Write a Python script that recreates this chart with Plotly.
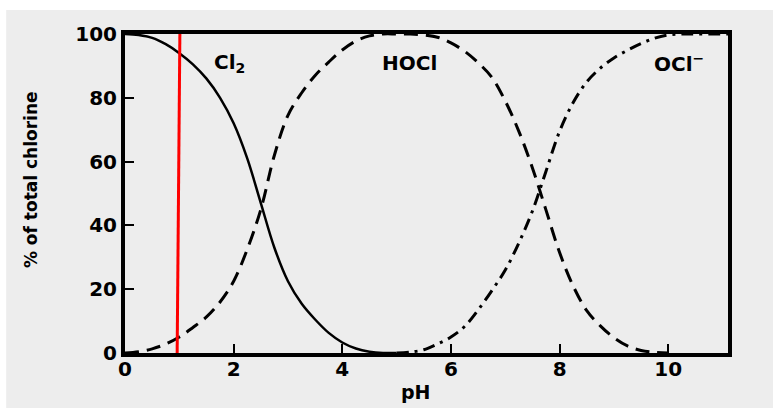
import plotly.graph_objects as go

# ---- data ----
ph_cl2 = [0, 0.25, 0.5, 0.75, 1.0, 1.25, 1.5, 1.75, 2.0, 2.25, 2.5, 2.75, 3.0, 3.25, 3.5,
          3.75, 4.0, 4.25, 4.5, 4.75, 5.0]
cl2 = [100, 99.7, 98.8, 96.8, 94, 90.5, 86, 80, 72, 61, 47, 33, 22.5, 15.5, 10.5,
       6.3, 3.3, 1.4, 0.4, 0, 0]

ph_hocl = [0, 0.25, 0.5, 0.75, 1.0, 1.25, 1.5, 1.75, 2.0, 2.25, 2.5, 2.75, 3.0, 3.25, 3.5,
           3.75, 4.0, 4.25, 4.5, 4.75, 5.0, 5.25, 5.5, 5.75, 6.0, 6.25, 6.5, 6.75, 7.0,
           7.25, 7.5, 7.75, 8.0, 8.25, 8.5, 8.75, 9.0, 9.25, 9.5, 9.75, 10.0]
hocl = [0, 0.4, 1.3, 2.8, 5, 8, 11.3, 16, 22.5, 32.5, 45, 62, 74.5, 81.5, 87,
        91.2, 95, 97.8, 99.4, 100, 100, 100, 99.7, 99, 97.2, 94.6, 91, 86.5, 79,
        69.5, 58, 44.8, 31.5, 21, 13.3, 8.5, 4.8, 2.2, 0.8, 0.2, 0]

ph_ocl = [5.0, 5.25, 5.5, 5.75, 6.0, 6.25, 6.5, 6.75, 7.0, 7.25, 7.5, 7.75, 8.0, 8.25,
          8.5, 8.75, 9.0, 9.25, 9.5, 9.75, 10.0, 10.25, 10.5, 11.1]
ocl = [0, 0.3, 1, 2.8, 5, 8.3, 13.5, 19.5, 26, 34.5, 44.5, 57, 69.5, 78.5,
       85, 89.3, 92.5, 94.9, 97, 98.7, 99.7, 100, 100, 100]

marker_ph = [0.96, 1.01]
marker_pct = [0, 100]

x_ticks = [0, 2, 4, 6, 8, 10]
y_ticks = [0, 20, 40, 60, 80, 100]

species_labels = ["Cl<sub>2</sub>", "HOCl", "OCl<sup>\u2212</sup>"]
species_label_ph = [1.93, 5.23, 10.2]
species_label_pct = [91, 91, 91]

FONT = "DejaVu Sans"

fig = go.Figure()
fig.add_trace(go.Scatter(x=ph_cl2, y=cl2, mode="lines", line=dict(color="black", width=2.5, shape="spline", smoothing=1.0)))
fig.add_trace(go.Scatter(x=ph_hocl, y=hocl, mode="lines", line=dict(color="black", width=3, dash="14px,8px", shape="spline", smoothing=1.0)))
fig.add_trace(go.Scatter(x=ph_ocl, y=ocl, mode="lines", line=dict(color="black", width=3, dash="12px,6px,3px,6px", shape="spline", smoothing=1.0)))
fig.add_trace(go.Scatter(x=marker_ph, y=marker_pct, mode="lines", line=dict(color="#ff0000", width=3)))

for t, xv, yv in zip(species_labels, species_label_ph, species_label_pct):
    fig.add_annotation(x=xv, y=yv, xref="x", yref="y", text=t, showarrow=False,
                       font=dict(family=FONT, size=20, color="black", weight="bold"))

fig.add_annotation(x=5.36, y=0, xref="x", yref="paper", yanchor="middle", yshift=-39,
                   text="pH", showarrow=False,
                   font=dict(family=FONT, size=19, color="black", weight="bold"))
fig.add_annotation(x=0, y=0.542, xref="paper", yref="paper", xanchor="center", xshift=-94,
                   text="% of total chlorine", textangle=-90, showarrow=False,
                   font=dict(family=FONT, size=17, color="black", weight="bold"))

fig.add_shape(type="rect", xref="paper", yref="paper", x0=-0.197, x1=1.1, y0=-0.2, y1=1.075,
              fillcolor="#ededed", line=dict(width=0), layer="below")

axis_common = dict(showline=True, linecolor="black", linewidth=4, mirror=True,
                   ticks="inside", tickcolor="black", tickwidth=2, ticklen=9,
                   showgrid=False, zeroline=False,
                   tickfont=dict(family=FONT, size=20, color="black", weight="bold"))

fig.update_xaxes(range=[0, 11.1], tickvals=x_ticks, ticktext=[str(v) for v in x_ticks],
                 ticklabelstandoff=-5, **axis_common)
fig.update_yaxes(range=[0, 100], tickvals=y_ticks, ticktext=[str(v) for v in y_ticks], **axis_common)

fig.update_layout(width=773, height=408, showlegend=False,
                  margin=dict(l=125, r=45, t=34, b=55),
                  paper_bgcolor="white", plot_bgcolor="#ededed")

fig.write_html("out.html")
